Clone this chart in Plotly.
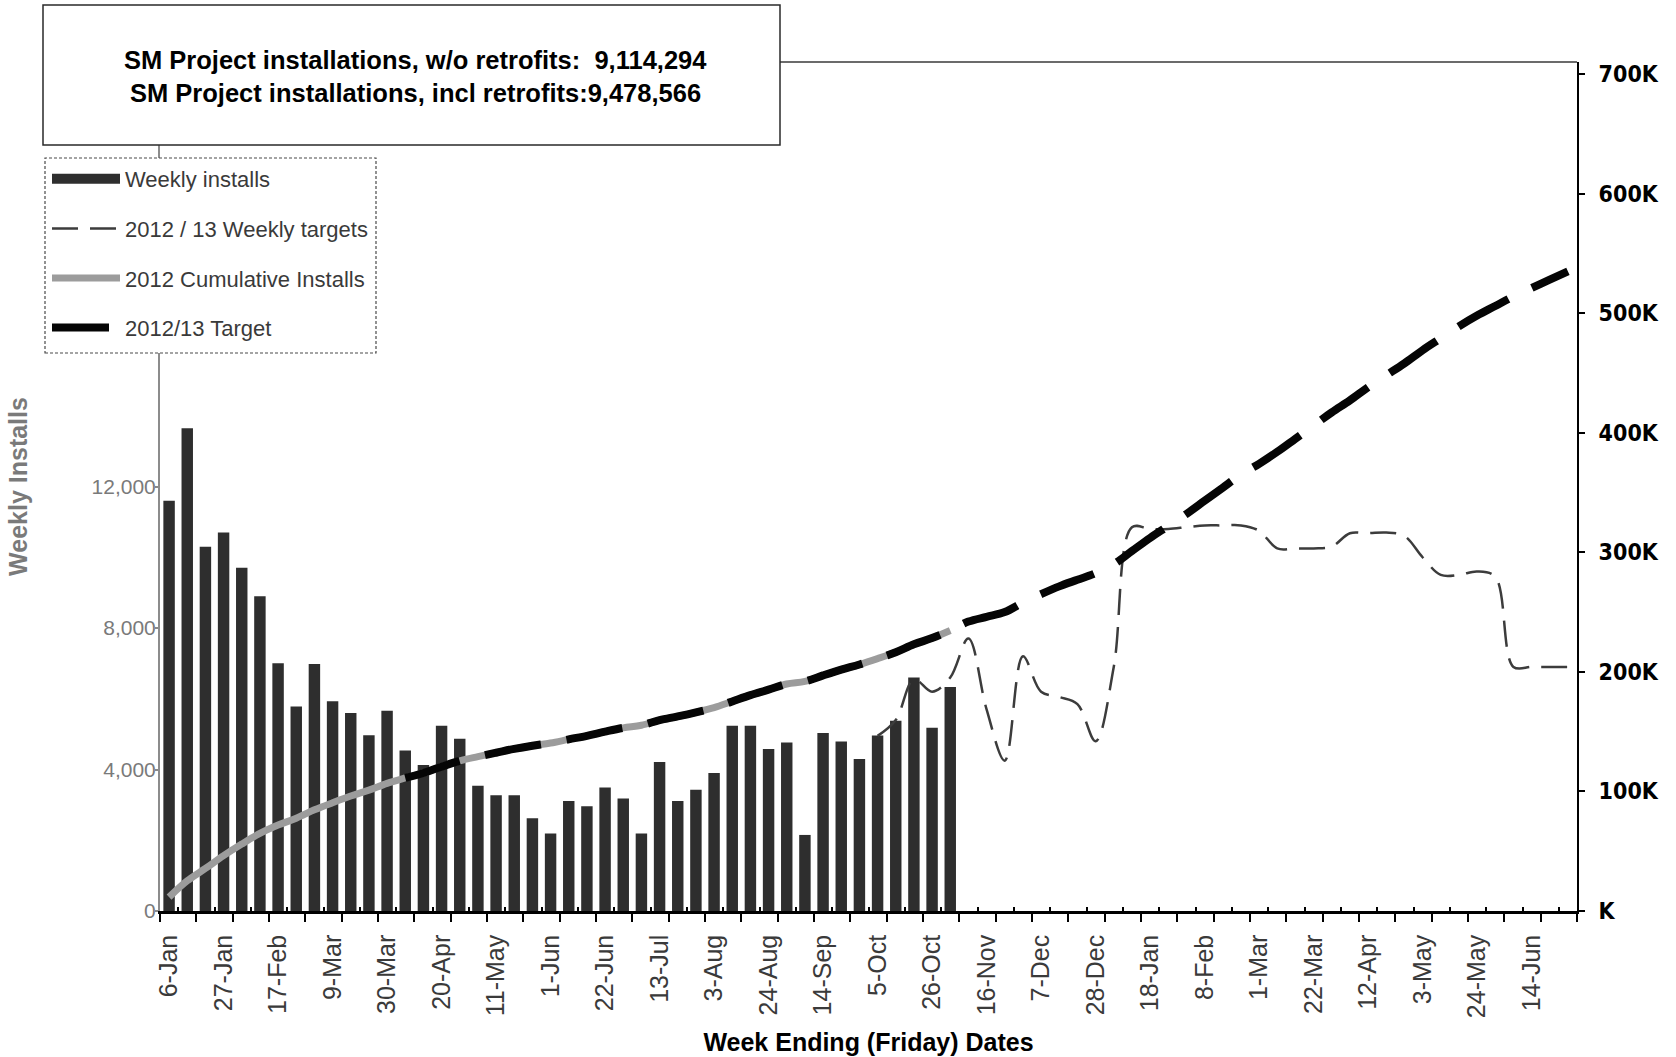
import plotly.graph_objects as go

# ---------------- data ----------------
weeks = [
    "6-Jan", "13-Jan", "20-Jan", "27-Jan", "3-Feb", "10-Feb", "17-Feb", "24-Feb",
    "2-Mar", "9-Mar", "16-Mar", "23-Mar", "30-Mar", "6-Apr", "13-Apr", "20-Apr",
    "27-Apr", "4-May", "11-May", "18-May", "25-May", "1-Jun", "8-Jun", "15-Jun",
    "22-Jun", "29-Jun", "6-Jul", "13-Jul", "20-Jul", "27-Jul", "3-Aug", "10-Aug",
    "17-Aug", "24-Aug", "31-Aug", "7-Sep", "14-Sep", "21-Sep", "28-Sep", "5-Oct",
    "12-Oct", "19-Oct", "26-Oct", "2-Nov", "9-Nov", "16-Nov", "23-Nov", "30-Nov",
    "7-Dec", "14-Dec", "21-Dec", "28-Dec", "4-Jan", "11-Jan", "18-Jan", "25-Jan",
    "1-Feb", "8-Feb", "15-Feb", "22-Feb", "1-Mar", "8-Mar", "15-Mar", "22-Mar",
    "29-Mar", "5-Apr", "12-Apr", "19-Apr", "26-Apr", "3-May", "10-May", "17-May",
    "24-May", "31-May", "7-Jun", "14-Jun", "21-Jun", "28-Jun",
]

weekly_installs = [
    11600, 13650, 10300, 10700, 9700, 8900, 7000, 5780, 6980, 5930, 5600,
    4970, 5660, 4540, 4130, 5240, 4870, 3540, 3270, 3270, 2620, 2190,
    3110, 2960, 3490, 3180, 2190, 4210, 3110, 3430, 3900, 5240, 5240,
    4580, 4760, 2150, 5030, 4790, 4300, 4960, 5380, 6600, 5180, 6330,
]

cumulative_installs = [
    11600, 25250, 35550, 46250, 55950, 64850, 71850, 77630, 84610, 90540, 96140,
    101110, 106770, 111310, 115440, 120680, 125550, 129090, 132360, 135630, 138250, 140440,
    143550, 146510, 150000, 153180, 155370, 159580, 162690, 166120, 170020, 175260, 180500,
    185080, 189840, 191990, 197020, 201810, 206110, 211070, 216450, 223050, 228230, 234560,
]

target_start = 13  # first week of the 2012/13 target line (30-Mar)
target_values = [
    111310, 115440, 120680, 125550, 129090, 132360, 135630, 138250, 140440, 143550,
    146510, 150000, 153180, 155370, 159580, 162690, 166120, 170020, 175260, 180500,
    185080, 189840, 191990, 197020, 201810, 206110, 211070, 216450, 223050, 228230,
    234560, 242000, 246000, 250000, 258000, 265000, 271500, 277000, 282500, 290000,
    301000, 312000, 322000, 332000, 343000, 354000, 365000, 374000, 384000, 395000,
    406000, 417000, 427000, 438000, 448000, 458000, 469000, 479000, 489000, 498000,
    506000, 514000, 521000, 528000, 535000,
]

weekly_target_start = 39  # 5-Oct
weekly_targets = [
    4950, 5400, 6550, 6200, 6600, 7700, 5700, 4250, 7200, 6200,
    6050, 5850, 4800, 6900, 10850, 10800, 10800, 10850, 10900, 10900,
    10900, 10750, 10250, 10250, 10250, 10300, 10680, 10680, 10700, 10600,
    10000, 9500, 9500, 9600, 9450, 6900, 6900, 6900, 6900,
]

left_ticks = [0, 4000, 8000, 12000]
right_ticks = [0, 100000, 200000, 300000, 400000, 500000, 600000, 700000]
right_tick_text = ["K", "100K", "200K", "300K", "400K", "500K", "600K", "700K"]

title_lines = [
    "SM Project installations, w/o retrofits:  9,114,294",
    "SM Project installations, incl retrofits:9,478,566",
]

# ---------------- layout helpers ----------------
W, H = 1676, 1057
PL, PR, PT, PB = 160, 1577, 62, 911  # plot area in pixels


def pxx(p):
    return (p - PL) / (PR - PL)


def pxy(p):
    return (PB - p) / (PB - PT)


FONT = "Liberation Sans, Arial, Helvetica, sans-serif"
NARROW = "Liberation Sans Narrow, Arial Narrow, DejaVu Sans Condensed, Liberation Sans, sans-serif"
BAR_COLOR = "#2e2e2e"
xi = list(range(len(weeks)))
nweeks = len(weeks)

fig = go.Figure()

fig.add_trace(go.Bar(
    x=xi[:len(weekly_installs)], y=weekly_installs, name="Weekly installs",
    hovertext=weeks[:len(weekly_installs)],
    marker=dict(color=BAR_COLOR, line=dict(width=0)), width=0.63,
    legendgroup="g1", showlegend=False,
))
# legend key for the bars, drawn as a wide bar like the original
fig.add_trace(go.Scatter(
    x=[None], y=[None], xaxis="x2", mode="lines", name="Weekly installs",
    line=dict(color=BAR_COLOR, width=10), legendgroup="g1", hoverinfo="skip",
))
fig.add_trace(go.Scatter(
    x=xi[weekly_target_start:weekly_target_start + len(weekly_targets)], y=weekly_targets,
    hovertext=weeks[weekly_target_start:weekly_target_start + len(weekly_targets)],
    mode="lines", name="2012 / 13 Weekly targets",
    line=dict(color="#3c3c3c", width=2.5, dash="26px,12px", shape="spline"),
    legendgroup="g2",
))
fig.add_trace(go.Scatter(
    x=xi[:len(cumulative_installs)], y=cumulative_installs, yaxis="y2",
    hovertext=weeks[:len(cumulative_installs)],
    mode="lines", name="2012 Cumulative Installs",
    line=dict(color="#9c9c9c", width=7, shape="spline"),
    legendgroup="g3",
))
fig.add_trace(go.Scatter(
    x=xi[target_start:target_start + len(target_values)], y=target_values, yaxis="y2",
    hovertext=weeks[target_start:target_start + len(target_values)],
    mode="lines", name="2012/13 Target",
    line=dict(color="#050505", width=8, dash="57px,26px", shape="spline"),
    legendgroup="g4",
))

shapes = [
    # top border of the plot area
    dict(type="line", xref="paper", yref="paper", x0=0, x1=1, y0=1, y1=1,
         line=dict(color="#3a3a3a", width=1.5), layer="above"),
    # title box
    dict(type="rect", xref="paper", yref="paper",
         x0=pxx(43), x1=pxx(780), y0=pxy(145), y1=pxy(5),
         fillcolor="white", line=dict(color="#2a2a2a", width=1.5), layer="above"),
    # legend box (dashed)
    dict(type="rect", xref="paper", yref="paper",
         x0=pxx(45), x1=pxx(376), y0=pxy(353), y1=pxy(158),
         fillcolor="white", line=dict(color="#4a4a4a", width=1.2, dash="3px,2px"), layer="above"),
]

annotations = [
    dict(text=title_lines[0], xref="paper", yref="paper", x=pxx(415), y=pxy(60),
         xanchor="center", yanchor="middle", showarrow=False,
         font=dict(family=FONT, size=25.5, color="black", weight="bold")),
    dict(text=title_lines[1], xref="paper", yref="paper", x=pxx(415), y=pxy(93),
         xanchor="center", yanchor="middle", showarrow=False,
         font=dict(family=FONT, size=25.5, color="black", weight="bold")),
]

fig.update_layout(
    width=W, height=H, autosize=False,
    margin=dict(l=PL, r=W - PR, t=PT, b=H - PB, pad=0),
    paper_bgcolor="white", plot_bgcolor="white",
    bargap=0.37,
    showlegend=True,
    legend=dict(
        x=pxx(47), y=pxy(158), xanchor="left", yanchor="top",
        bgcolor="rgba(0,0,0,0)", borderwidth=0,
        font=dict(family=FONT, size=22, color="#3a3a3a"),
        tracegroupgap=18, itemwidth=68, traceorder="grouped",
    ),
    shapes=shapes,
    annotations=annotations,
    xaxis=dict(
        range=[-0.5, nweeks - 0.5], automargin=False,
        tickmode="array", tickvals=xi[::3], ticktext=weeks[::3],
        tickangle=-90, ticks="", ticklabelstandoff=11,
        tickfont=dict(family=FONT, size=25, color="#3a3a3a"),
        showline=True, linecolor="black", linewidth=2.5,
        showgrid=False, zeroline=False,
        minor=dict(tickmode="array", tickvals=[v - 0.5 for v in xi[::2]] + [nweeks - 0.5],
                   ticks="outside", ticklen=8, tickwidth=2, tickcolor="black"),
        title=dict(text="Week Ending (Friday) Dates", standoff=17,
                   font=dict(family=FONT, size=25, color="black", weight="bold")),
    ),
    # small inside tick marks between the outside ones
    xaxis2=dict(
        overlaying="x", anchor="y", side="bottom",
        range=[-0.5, nweeks - 0.5], automargin=False,
        tickmode="array", tickvals=[v + 0.5 for v in xi[::2]],
        ticks="inside", ticklen=4, tickwidth=2, tickcolor="black",
        showticklabels=False, showline=False, showgrid=False, zeroline=False,
    ),
    yaxis=dict(
        range=[0, 24000], tickmode="array", tickvals=left_ticks, tickformat=",d",
        automargin=False,
        ticks="outside", ticklen=3, tickcolor="#8a8a8a", tickwidth=1.5,
        ticklabelstandoff=-5,
        tickfont=dict(family=FONT, size=21, color="#7a7a7a"),
        showline=True, linecolor="#8c8c8c", linewidth=2,
        showgrid=False, zeroline=False,
        title=dict(text="Weekly Installs", standoff=57,
                   font=dict(family=FONT, size=25, color="#7a7a7a", weight="bold")),
    ),
    yaxis2=dict(
        overlaying="y", side="right", anchor="x", automargin=False,
        range=[0, 710000], tickmode="array", tickvals=right_ticks, ticktext=right_tick_text,
        ticks="outside", ticklen=6, tickwidth=1.5, tickcolor="black", ticklabelstandoff=9,
        tickfont=dict(family=NARROW, size=23, color="black", weight="bold"),
        showline=True, linecolor="black", linewidth=2,
        showgrid=False, zeroline=False,
    ),
)

fig.write_html(
    "out.html",
    config={"displayModeBar": False},
    post_script="document.body.style.margin='0';document.body.style.overflow='hidden';",
)
